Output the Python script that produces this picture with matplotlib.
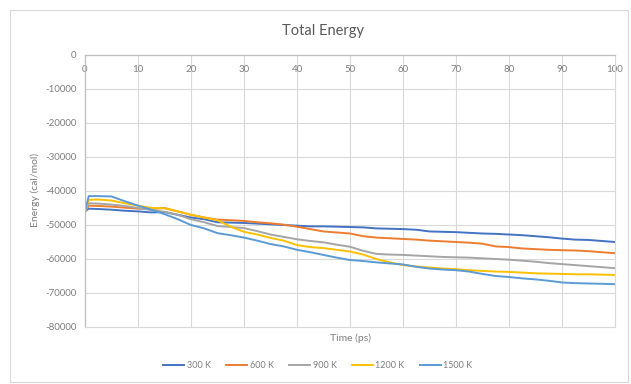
import matplotlib
matplotlib.use('Agg')
import matplotlib.pyplot as plt
import numpy as np
from matplotlib.patches import Rectangle

plt.rcParams['font.family'] = ['Lato', 'DejaVu Sans']
plt.rcParams['axes.unicode_minus'] = False

# time in ps
time_ps = [0, 0.7] + [2.5 * i for i in range(1, 41)]

series_names = ['300 K', '600 K', '900 K', '1200 K', '1500 K']
series_colors = ['#4472C4', '#ED7D31', '#A5A5A5', '#FFC000', '#5B9BD5']

e_300 = [-46000, -45200, -45300, -45500, -45800, -46000, -46300, -46200, -47000, -47800,
         -48300, -49200, -49300, -49400, -49600, -49800, -50000, -50200, -50400, -50400,
         -50500, -50600, -50700, -51000, -51100, -51200, -51400, -51900, -52000, -52100,
         -52300, -52500, -52600, -52800, -53000, -53300, -53600, -54000, -54300, -54400,
         -54700, -55000]
e_600 = [-46000, -44300, -44400, -44600, -44900, -45200, -45300, -45000, -46000, -47000,
         -47800, -48400, -48600, -48800, -49200, -49500, -49900, -50500, -51200, -51900,
         -52200, -52500, -53300, -53700, -53900, -54100, -54300, -54600, -54800, -55000,
         -55200, -55500, -56300, -56500, -56900, -57100, -57300, -57400, -57500, -57700,
         -58000, -58300]
e_900 = [-46000, -43600, -43700, -44000, -44400, -45000, -45600, -46100, -47000, -48300,
         -49200, -50300, -50600, -50900, -51800, -52800, -53500, -54200, -54700, -55100,
         -55800, -56400, -57600, -58500, -58700, -58800, -59000, -59200, -59400, -59500,
         -59600, -59800, -60000, -60200, -60500, -60800, -61200, -61500, -61800, -62100,
         -62400, -62700]
e_1200 = [-46000, -42600, -42500, -42800, -43600, -44300, -45000, -45100, -46000, -47000,
          -47800, -48600, -50500, -52000, -52800, -53800, -54600, -55900, -56500, -56800,
          -57300, -57800, -58700, -60000, -61000, -61800, -62200, -62500, -62800, -63000,
          -63300, -63500, -63700, -63800, -64000, -64200, -64300, -64400, -64500, -64500,
          -64600, -64700]
e_1500 = [-46000, -41500, -41500, -41600, -43000, -44300, -45500, -46800, -48300, -50000,
          -51000, -52400, -53000, -53700, -54600, -55600, -56300, -57300, -58000, -58800,
          -59600, -60300, -60600, -61000, -61300, -61600, -62300, -62800, -63100, -63300,
          -63700, -64400, -65000, -65300, -65700, -66000, -66400, -66900, -67100, -67200,
          -67300, -67400]

x_ticks = list(range(0, 101, 10))
y_ticks = list(range(0, -80001, -10000))

fig = plt.figure(figsize=(6.31, 3.84), dpi=100)
fig.patches.append(Rectangle((10 / 631, 2 / 384), 618 / 631, 372 / 384,
                             transform=fig.transFigure, fill=False,
                             edgecolor='#D9D9D9', linewidth=0.8))
ax = fig.add_axes([85 / 631, 1 - 327 / 384, 530 / 631, 272 / 384])

all_series = [e_300, e_600, e_900, e_1200, e_1500]
for vals, name, col in zip(all_series, series_names, series_colors):
    ax.plot(time_ps, vals, color=col, linewidth=1.4, label=name)

ax.set_xlim(0, 100)
ax.set_ylim(-80000, 0)
ax.set_xticks(x_ticks)
ax.set_yticks(y_ticks)
ax.set_yticklabels([str(v) for v in y_ticks])
ax.grid(True, color='#D9D9D9', linewidth=0.8)
ax.set_axisbelow(True)

for side in ['bottom', 'right']:
    ax.spines[side].set_color('#D9D9D9')
    ax.spines[side].set_linewidth(0.8)
for side in ['top', 'left']:
    ax.spines[side].set_color('#BFBFBF')
    ax.spines[side].set_linewidth(0.9)

ax.xaxis.tick_top()
ax.tick_params(axis='x', length=0, pad=-14, labelsize=7, colors='#7F7F7F')
ax.tick_params(axis='y', length=0, pad=6, labelsize=7, colors='#7F7F7F')

fig.text(323 / 631, 1 - 31 / 384, 'Total Energy', ha='center', va='center',
         fontsize=10.5, color='#595959')
fig.text(350 / 631, 1 - 338 / 384, 'Time (ps)', ha='center', va='center',
         fontsize=7.5, color='#7F7F7F')
fig.text(35 / 631, 1 - 190 / 384, 'Energy (cal/mol)', ha='center', va='center',
         rotation=90, fontsize=7.5, color='#7F7F7F')

leg = fig.legend(loc='center', bbox_to_anchor=(318 / 631, 1 - 366 / 384), ncol=5,
                 frameon=False, fontsize=6.5, handlelength=2.3, columnspacing=1.7,
                 handletextpad=0.3)
for t in leg.get_texts():
    t.set_color('#7F7F7F')

fig.savefig('out.png', dpi=100)
